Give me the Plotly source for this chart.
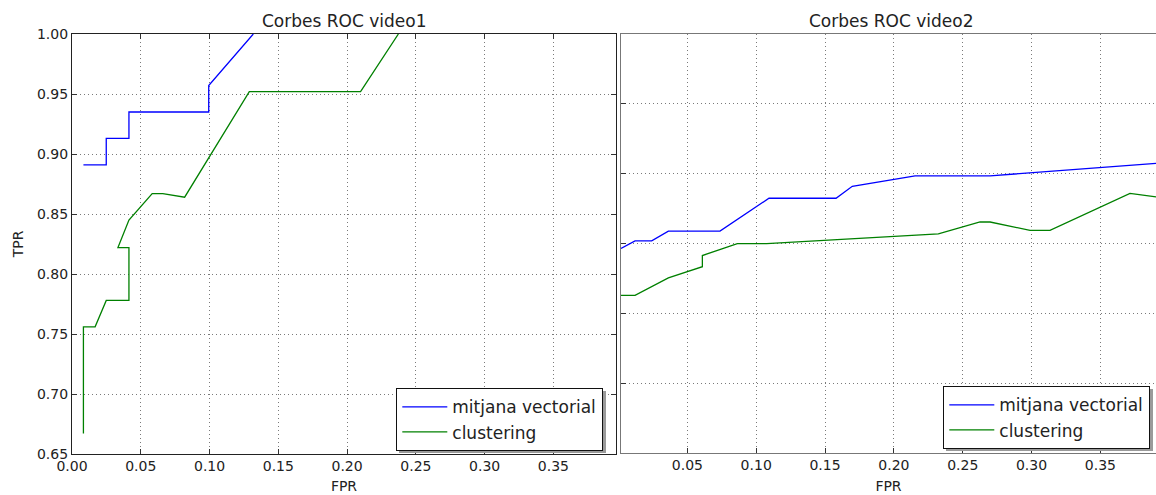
import plotly.graph_objects as go

# ---- data ----
v1_vec_fpr = [0.0083, 0.0249, 0.0249, 0.0414, 0.0414, 0.0994, 0.0994, 0.1318]
v1_vec_tpr = [0.891, 0.891, 0.913, 0.913, 0.935, 0.935, 0.957, 1.0]
v1_clu_fpr = [0.0083, 0.0083, 0.0168, 0.0249, 0.0414, 0.0414, 0.0334, 0.0414,
              0.0583, 0.066, 0.0819, 0.1289, 0.2098, 0.2373]
v1_clu_tpr = [0.667, 0.756, 0.756, 0.778, 0.778, 0.822, 0.822, 0.845,
              0.867, 0.867, 0.864, 0.952, 0.952, 1.0]

v2_vec_fpr = [0.0018, 0.012, 0.0241, 0.0362, 0.0737, 0.1093, 0.158, 0.1698,
              0.2154, 0.2699, 0.3904]
v2_vec_tpr = [0.693, 0.704, 0.704, 0.718, 0.718, 0.765, 0.765, 0.782,
              0.797, 0.797, 0.815]
v2_clu_fpr = [0.0018, 0.012, 0.0362, 0.0609, 0.0609, 0.0863, 0.1076, 0.2323,
              0.2626, 0.2699, 0.2989, 0.3134, 0.3715, 0.3904]
v2_clu_tpr = [0.626, 0.626, 0.651, 0.667, 0.683, 0.700, 0.700, 0.714,
              0.731, 0.731, 0.719, 0.719, 0.772, 0.767]

titles = ["Corbes ROC video1", "Corbes ROC video2"]
series_names = ["mitjana vectorial", "clustering"]
x1_ticks = [0.0, 0.05, 0.10, 0.15, 0.20, 0.25, 0.30, 0.35]
y1_ticks = [0.65, 0.70, 0.75, 0.80, 0.85, 0.90, 0.95, 1.00]
x2_ticks = [0.05, 0.10, 0.15, 0.20, 0.25, 0.30, 0.35]
y2_ticks = [0.5, 0.6, 0.7, 0.8, 0.9]

W, H = 1156, 495
ML, MR, MT, MB = 72, 0, 34, 41
PW, PH = W - ML - MR, H - MT - MB
BLUE = "#0000ff"
GREEN = "#008000"
FONT = "DejaVu Sans"


def px(x):
    return (x - ML) / PW


def py(y):
    return (H - MB - y) / PH


fig = go.Figure()
fig.add_trace(go.Scatter(x=v1_vec_fpr, y=v1_vec_tpr, mode="lines", name=series_names[0],
                         line=dict(color=BLUE, width=1.3), xaxis="x", yaxis="y", legend="legend"))
fig.add_trace(go.Scatter(x=v1_clu_fpr, y=v1_clu_tpr, mode="lines", name=series_names[1],
                         line=dict(color=GREEN, width=1.3), xaxis="x", yaxis="y", legend="legend"))
fig.add_trace(go.Scatter(x=v2_vec_fpr, y=v2_vec_tpr, mode="lines", name=series_names[0],
                         line=dict(color=BLUE, width=1.3), xaxis="x2", yaxis="y2", legend="legend2"))
fig.add_trace(go.Scatter(x=v2_clu_fpr, y=v2_clu_tpr, mode="lines", name=series_names[1],
                         line=dict(color=GREEN, width=1.3), xaxis="x2", yaxis="y2", legend="legend2"))

grid = dict(showgrid=True, gridcolor="#7a7a7a", gridwidth=1, griddash="1px,3px", zeroline=False,
            automargin=False, ticks="inside", ticklen=5, tickcolor="#333",
            tickfont=dict(family=FONT, size=14, color="#222"))

legend_style = dict(xanchor="left", yanchor="top", bgcolor="white", bordercolor="#111",
                    borderwidth=1.3, itemwidth=45, tracegroupgap=0,
                    font=dict(family=FONT, size=17, color="#222"))

fig.update_layout(
    width=W, height=H,
    margin=dict(l=ML, r=MR, t=MT, b=MB, autoexpand=False),
    plot_bgcolor="white", paper_bgcolor="white",
    font=dict(family=FONT, color="#222"),
    xaxis=dict(domain=[0, px(616)], range=[0, 0.3955], tickvals=x1_ticks, tickformat=".2f",
               showline=True, linecolor="#222", linewidth=1.3, mirror="ticks", anchor="y",
               ticklabelstandoff=-1,
               title=dict(text="FPR", font=dict(family=FONT, size=14), standoff=8), **grid),
    yaxis=dict(domain=[0, 1], range=[0.65, 1.0], tickvals=y1_ticks, tickformat=".2f",
               showline=True, linecolor="#222", linewidth=1.3, mirror="ticks", anchor="x",
               title=dict(text="TPR", font=dict(family=FONT, size=14), standoff=9), **grid),
    xaxis2=dict(domain=[px(621), 1.0], range=[0.0018, 0.3904], tickvals=x2_ticks, tickformat=".2f",
                showline=True, linecolor="#777", linewidth=1.3, mirror=True, anchor="y2",
                ticklabelstandoff=-1,
                title=dict(text="FPR", font=dict(family=FONT, size=14), standoff=8), **grid),
    yaxis2=dict(domain=[py(453.3), 1.0], range=[0.4, 1.0], tickvals=y2_ticks,
                showticklabels=False, showline=True, linecolor="#777", linewidth=1.3, mirror=False,
                anchor="x2", **grid),
    legend=dict(x=px(396), y=py(388), **legend_style),
    legend2=dict(x=px(943), y=py(386), **legend_style),
    annotations=[
        dict(text=titles[0], x=px(344), y=py(21), xref="paper", yref="paper", showarrow=False,
             xanchor="center", yanchor="middle", font=dict(family=FONT, size=17, color="#222")),
        dict(text=titles[1], x=px(891), y=py(21), xref="paper", yref="paper", showarrow=False,
             xanchor="center", yanchor="middle", font=dict(family=FONT, size=17, color="#222")),
    ],
    shapes=[
        dict(type="rect", xref="paper", yref="paper", x0=px(399), x1=px(606), y0=py(453), y1=py(391),
             fillcolor="#9a9a9a", line=dict(width=0), layer="above"),
        dict(type="rect", xref="paper", yref="paper", x0=px(946), x1=px(1153), y0=py(451), y1=py(389),
             fillcolor="#9a9a9a", line=dict(width=0), layer="above"),
    ],
)

fig.write_html("out.html", config={"displayModeBar": False},
               post_script="document.body.style.margin='0';document.body.style.overflow='hidden';")
